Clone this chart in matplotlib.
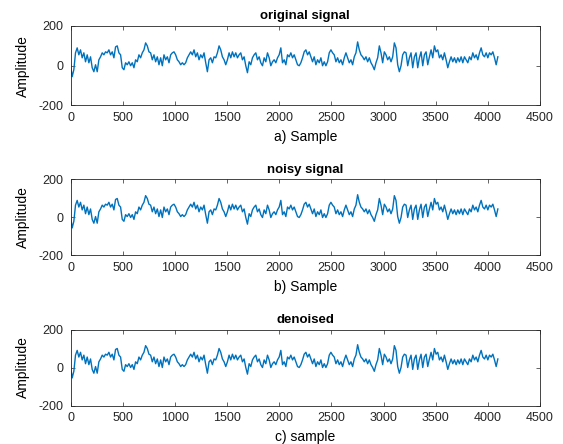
import numpy as np
import matplotlib
matplotlib.use("Agg")
import matplotlib.pyplot as plt

plt.rcParams['font.family'] = ['Liberation Sans', 'DejaVu Sans']
plt.rcParams['axes.unicode_minus'] = False

# sample spacing of the values
step = 16

original = [
    5, -55, -20, 65, 90, 55, 80, 40, 65, 20, 55, 15, 45, -10, -30, 5, -30, 30, 45, 65,
    55, 70, 65, 80, 55, 70, 40, 95, 100, 65, 55, -10, -20, 15, 5, 20, 0, 15, -10, 30,
    20, 55, 40, 65, 80, 115, 100, 70, 65, 30, 55, 20, 45, 5, 40, 0, 55, 30, 45, 15,
    55, 65,
    70, 55, 30, 20, 5, 15, 5, 15, 40, 55, 70, 55, 80, 45, 65, 30, 55, 40, 65, 15,
    -30, 30, 40, 15, 45, 40, 65, 100, 80, 45, 30, 5, 30, 65, 40, 70, 45, 65, 40, 55,
    65, 30, 45, 0, -35, 20, 5, 40, 55, 65, 30, 45, 15, 0, 40, 20, 65, 40, 0, 20,
    30, 15, 40, 55, 90,
    15, 30, 5, 55, 45, 65, 40, 55, 30, 5, 0, 15, 40, 70, 80, 55, 70, 45, 20, 45,
    5, 30, 15, 40, 0, 20, 0, 20, 65, 80, 65, 55, 20, 40, 15, 30, 5, 40, 65, 40,
    15, 30, 5, 45, 65, 120, 80, 55, 45, 30, 45, 20, 40, 15, 0, -20, 15, 40, 100, 65,
    15, 70, 55, 30, 45,
    20, 45, 115, 90, 5, -30, 0, 55, 70, 65, 0, 40, 65, -10, 45, 65, -10, 40, 70, 0,
    55, 70, 5, 45, 80, 40, 100, 70, 80, 40, 55, 30, 65, 30, -10, 20, 45, 20, 40, 15,
    40, 20, 45, 15, 45, 30, 15, 45, 30, 65, 40, 55, 30, 65, 90, 55, 45, 65, 40, 65,
    55, 70, 40, 5, 45,
]
# noisy and denoised panels look the same as the original at this resolution
noisy = list(original)
denoised = list(original)

titles = ['original signal', 'noisy signal', 'denoised']
xlabels = ['a) Sample', 'b) Sample', 'c) sample']
series = [original, noisy, denoised]

W, H = 563, 444
fig = plt.figure(figsize=(W / 100, H / 100), dpi=100)

# axes boxes in pixels: (top, bottom)
boxes = [(26, 105.5), (179.5, 255.5), (329.5, 405.5)]
left, right = 70.5, 540

line_color = '#0072BD'
frame_color = '#262626'

for (top, bot), y, title, xl in zip(boxes, series, titles, xlabels):
    ax = fig.add_axes([left / W, 1 - bot / H, (right - left) / W, (bot - top) / H])
    x = np.arange(len(y)) * step
    ax.plot(x, y, color=line_color, lw=1.0)
    ax.set_xlim(0, 4500)
    ax.set_ylim(-200, 200)
    ax.set_xticks(np.arange(0, 4501, 500))
    ax.set_yticks([-200, 0, 200])
    ax.tick_params(direction='in', top=True, right=True, length=3, width=0.5,
                   labelsize=9, colors=frame_color, pad=5)
    for sp in ax.spines.values():
        sp.set_linewidth(0.6)
        sp.set_color(frame_color)
    ax.set_title(title, fontsize=9.5, fontweight='bold', pad=5)
    ax.set_xlabel(xl, fontsize=10, labelpad=4)
    ax.set_ylabel('Amplitude', fontsize=10, labelpad=6)

fig.savefig('out.png', dpi=100)
